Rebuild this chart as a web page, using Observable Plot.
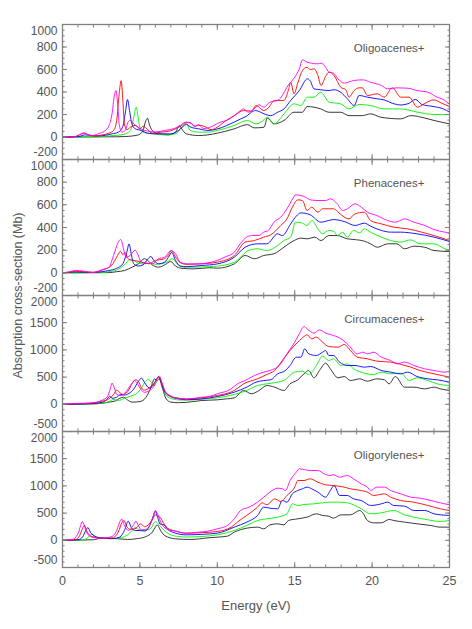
<!DOCTYPE html>
<html>
<head>
<meta charset="utf-8">
<script src="https://cdn.jsdelivr.net/npm/d3@7"></script>
<script src="https://cdn.jsdelivr.net/npm/@observablehq/plot@0.6"></script>
<style>
  html, body { margin: 0; padding: 0; background: #fff; }
  #chart { position: relative; width: 472px; height: 629px; overflow: hidden; }
  #chart svg { position: absolute; left: 0; }
  #chart g[aria-label="ticklabels"] text { letter-spacing: 1.2px; }
  #chart g[aria-label="ytitle"] text { letter-spacing: 1.3px; }
  #chart g[aria-label="xtitle"] text { letter-spacing: 1px; }
  #chart g[aria-label="paneltitle"] text { letter-spacing: 0.5px; }
</style>
</head>
<body>
<div id="chart"></div>
<script>
// ---------------- data: [energy (eV), cross-section (Mb)] ----------------
const panelTitles = ["Oligoacenes+", "Phenacenes+", "Circumacenes+", "Oligorylenes+"];
const seriesColors = ["#222222", "#00f000", "#0000ff", "#ff0000", "#ff00ff"];
const energyMajorTicks = [0, 5, 10, 15, 20, 25];
const energyMinorTicks = d3.range(0, 26, 1);
const yDomains = [[-200, 1000], [-200, 1000], [-500, 2000], [-500, 2000]];
const yMajorTicks = [
  [-200, 0, 200, 400, 600, 800, 1000],
  [-200, 0, 200, 400, 600, 800, 1000],
  [-500, 0, 500, 1000, 1500, 2000],
  [-500, 0, 500, 1000, 1500, 2000]
];
const yMinorSteps = [50, 50, 100, 100];

// Panel 1: Oligoacenes+
const oligoacenesBlack = [[0,0],[3.5,2],[4.05,4],[4.9,19],[5.2,58],[5.35,132],[5.49,167],[5.6,117],[5.8,58],[6.2,28],[6.85,19],[7.3,43],[7.55,102],[7.7,73],[8.0,28],[8.8,13],[9.4,19],[10.0,34],[11.08,72],[11.94,110],[12.4,81],[13.02,87],[13.23,170],[13.66,117],[14.31,147],[14.96,220],[15.5,220],[15.8,271],[16.68,250],[17.22,220],[17.97,220],[18.51,190],[19.37,190],[19.9,206],[20.56,176],[21.85,161],[22.5,190],[23.36,170],[24.0,147],[25,117]];
const oligoacenesGreen = [[0,0],[2.0,2],[3.0,10],[3.8,19],[4.27,43],[4.5,102],[4.65,206],[4.76,265],[4.85,206],[5.0,87],[5.2,43],[5.8,28],[6.6,19],[7.3,28],[7.7,87],[8.0,123],[8.25,58],[8.8,43],[9.4,43],[10.0,58],[11.08,102],[11.94,147],[12.5,117],[13.0,150],[13.23,176],[13.66,117],[14.31,206],[14.96,295],[15.4,280],[15.82,354],[16.25,354],[16.68,398],[17.22,310],[17.97,295],[18.51,250],[19.16,289],[19.9,280],[20.78,250],[21.85,250],[22.93,221],[24.0,200],[25,200]];
const oligoacenesBlue = [[0,0],[1.0,3],[1.47,19],[1.9,12],[2.3,10],[3.2,28],[3.6,43],[3.88,87],[4.05,206],[4.2,333],[4.33,235],[4.48,117],[4.7,73],[5.1,58],[5.5,34],[6.2,28],[7.0,28],[7.5,58],[8.0,111],[8.3,87],[8.8,73],[9.4,58],[10.0,72],[11.08,132],[11.5,160],[11.94,190],[12.2,220],[12.48,235],[13.02,206],[13.45,190],[13.9,220],[14.31,250],[14.74,325],[15.3,413],[15.82,517],[16.0,500],[16.25,428],[16.68,420],[17.22,413],[17.54,420],[17.97,398],[18.4,340],[18.84,280],[19.16,369],[19.7,354],[20.34,339],[20.78,330],[21.3,300],[21.85,285],[22.39,300],[22.8,335],[23.2,290],[24.0,270],[24.6,250],[25,221]];
const oligoacenesRed = [[0,0],[0.8,3],[1.2,25],[1.42,34],[1.7,18],[2.1,10],[2.6,19],[3.0,34],[3.3,58],[3.5,147],[3.66,384],[3.79,500],[3.9,324],[4.0,117],[4.16,64],[4.38,87],[4.7,102],[5.0,73],[5.2,95],[5.4,80],[5.8,34],[6.4,43],[7.0,55],[7.4,80],[7.7,102],[8.0,132],[8.3,123],[8.6,95],[8.8,105],[9.2,93],[9.6,65],[10.0,87],[10.5,140],[11.1,190],[11.7,235],[12.2,230],[12.5,280],[13.0,235],[13.3,260],[13.7,325],[14.3,325],[14.6,420],[14.74,487],[14.96,384],[15.2,480],[15.5,591],[15.8,620],[16.0,600],[16.25,606],[16.5,547],[16.7,458],[17.0,540],[17.22,577],[17.54,547],[17.97,443],[18.3,420],[18.51,354],[18.84,413],[19.16,437],[19.37,437],[19.7,369],[20.34,384],[20.78,354],[21.31,437],[21.85,354],[22.39,354],[22.93,265],[23.36,295],[24.0,330],[24.5,300],[25,271]];
const oligoacenesMagenta = [[0,0],[0.7,2],[1.1,20],[1.36,37],[1.6,25],[1.9,12],[2.3,28],[2.76,58],[3.0,100],[3.2,206],[3.35,370],[3.45,413],[3.58,265],[3.66,117],[3.83,43],[4.05,58],[4.27,140],[4.4,147],[4.6,117],[4.9,87],[5.3,58],[6.0,45],[6.6,58],[7.2,75],[7.6,100],[7.9,130],[8.3,123],[8.5,95],[8.8,110],[9.1,75],[9.5,85],[9.8,105],[10.2,132],[10.6,147],[11.1,190],[11.5,235],[11.7,250],[12.0,220],[12.5,265],[12.7,286],[13.0,265],[13.4,310],[13.9,325],[14.2,369],[14.5,443],[15.0,532],[15.3,606],[15.5,686],[15.8,665],[16.1,656],[16.5,650],[16.7,656],[17.0,620],[17.2,577],[17.5,568],[17.8,517],[18.2,479],[18.8,502],[19.4,508],[19.9,487],[20.6,458],[21.0,428],[21.6,437],[22.3,434],[22.9,413],[23.6,398],[24.2,354],[24.7,325],[25,290]];

// Panel 2: Phenacenes+
const phenacenesBlack = [[0,0],[3.0,2],[3.5,10],[4.0,20],[4.5,50],[4.9,80],[5.3,125],[5.5,110],[5.8,70],[6.2,50],[6.6,70],[7.0,100],[7.3,60],[7.7,40],[8.5,35],[9.5,45],[10.0,41],[11.1,79],[11.8,153],[12.4,124],[13.0,153],[13.66,168],[14.3,226],[14.96,285],[15.4,306],[15.8,300],[16.3,315],[16.7,285],[17.2,329],[17.75,329],[18.4,300],[18.84,294],[19.5,279],[19.9,256],[20.34,226],[21.0,256],[21.6,256],[22.1,212],[22.7,235],[23.4,226],[24.0,197],[25,188]];
const phenacenesGreen = [[0,0],[2.5,2],[3.0,10],[3.5,25],[4.0,70],[4.35,115],[4.6,110],[4.9,85],[5.3,80],[5.7,85],[6.0,75],[6.4,80],[6.8,100],[7.1,125],[7.4,80],[7.8,50],[8.5,50],[9.5,55],[10.0,59],[11.1,94],[11.5,138],[12.0,197],[12.6,212],[13.2,197],[13.9,241],[14.3,285],[14.74,315],[15.05,447],[15.5,438],[15.8,418],[16.1,462],[16.5,388],[16.8,344],[17.2,374],[17.54,365],[17.75,329],[18.1,359],[18.4,315],[18.8,374],[19.2,353],[19.5,388],[19.9,359],[20.6,315],[21.2,285],[21.85,271],[22.5,291],[23.1,256],[24.0,256],[24.7,212],[25,197]];
const phenacenesBlue = [[0,0],[0.82,8],[2.0,3],[2.5,10],[3.0,20],[3.5,40],[3.9,80],[4.15,180],[4.3,255],[4.45,160],[4.6,80],[4.9,60],[5.2,70],[5.5,120],[5.7,145],[5.9,110],[6.2,80],[6.6,95],[6.9,150],[7.05,180],[7.3,110],[7.6,60],[8.0,55],[9.0,65],[10.0,79],[11.1,138],[11.8,226],[12.6,256],[13.2,256],[13.9,344],[14.2,329],[14.74,432],[15.1,500],[15.4,529],[16.0,512],[16.7,447],[17.2,462],[17.5,470],[18.2,453],[18.9,418],[19.5,438],[19.9,412],[20.6,374],[21.2,359],[21.85,359],[22.9,344],[24.0,315],[25,276]];
const phenacenesRed = [[0,0],[0.5,6],[0.82,14],[1.36,10],[2.0,5],[2.6,26],[3.2,70],[3.5,138],[3.75,190],[3.9,160],[4.05,180],[4.2,130],[4.5,110],[4.8,105],[5.2,90],[5.6,80],[6.0,110],[6.5,120],[6.8,150],[7.05,195],[7.3,140],[7.6,90],[8.0,75],[9.0,80],[10.0,94],[11.1,153],[11.8,271],[12.4,285],[13.0,315],[13.45,335],[14.1,418],[14.5,476],[14.85,579],[15.2,644],[15.5,638],[15.8,550],[16.1,579],[16.5,535],[16.8,565],[17.2,565],[17.5,565],[18.0,512],[18.5,476],[18.9,520],[19.5,535],[19.9,462],[20.6,432],[21.4,403],[22.3,388],[23.2,359],[24.0,329],[25,285]];
const phenacenesMagenta = [[0,0],[0.5,10],[0.82,22],[1.36,15],[1.9,3],[2.6,29],[3.0,50],[3.3,153],[3.6,270],[3.77,294],[3.94,212],[4.1,138],[4.37,153],[4.7,200],[4.85,168],[5.1,94],[5.4,88],[5.8,79],[6.2,124],[6.6,138],[7.0,195],[7.3,170],[7.6,94],[8.1,79],[8.8,79],[9.4,88],[10.0,109],[10.5,140],[11.1,182],[11.5,260],[11.9,315],[12.3,330],[12.7,330],[13.0,359],[13.3,374],[13.66,447],[14.1,491],[14.5,565],[14.9,660],[15.05,688],[15.4,682],[15.7,668],[16.0,644],[16.5,638],[17.0,638],[17.3,653],[17.75,609],[18.1,550],[18.4,565],[18.9,609],[19.3,579],[19.7,535],[20.3,506],[20.99,462],[21.5,447],[22.1,476],[22.7,447],[23.4,418],[24.0,382],[24.7,359],[25,353]];

// Panel 3: Circumacenes+
const circumacenesBlack = [[0,0],[1,2],[2,8],[2.6,20],[3,40],[3.4,60],[3.7,110],[3.95,130],[4.2,80],[4.5,40],[5,50],[5.4,130],[5.7,300],[5.95,470],[6.1,430],[6.25,470],[6.45,300],[6.7,100],[7,40],[7.5,30],[8,35],[9,70],[10,82],[10.6,100],[11.1,119],[11.7,254],[12.2,193],[12.7,254],[13.2,345],[13.7,315],[14.3,254],[14.7,376],[15.2,450],[15.6,560],[15.9,621],[16.25,486],[16.6,621],[17.0,756],[17.3,652],[17.8,486],[18.2,511],[18.6,437],[19.2,468],[19.7,425],[20.3,468],[20.8,450],[21.1,376],[21.5,511],[22.1,315],[22.7,315],[23.4,284],[24.0,315],[24.4,284],[25,254]];
const circumacenesGreen = [[0,0],[1,3],[2,10],[2.6,25],[3,50],[3.3,90],[3.6,70],[4,110],[4.4,150],[4.8,200],[5.1,300],[5.35,420],[5.55,455],[5.75,400],[5.9,330],[6.1,420],[6.25,470],[6.4,380],[6.6,200],[7,110],[7.5,80],[8,75],[9,95],[10,119],[11.1,180],[11.9,254],[12.6,345],[13.2,376],[13.9,407],[14.3,437],[15.0,591],[15.5,609],[15.9,548],[16.4,713],[16.8,885],[17.2,805],[17.5,836],[18.0,713],[18.4,744],[18.8,652],[19.5,572],[20.1,548],[20.6,591],[21.2,560],[21.85,572],[22.4,437],[22.9,486],[23.6,437],[24.2,376],[25,345]];
const circumacenesBlue = [[0,0],[1,5],[2,15],[2.6,40],[2.9,100],[3.05,150],[3.2,110],[3.5,130],[3.75,180],[4.0,170],[4.3,200],[4.6,280],[4.9,420],[5.1,480],[5.3,400],[5.6,300],[5.8,330],[6.0,420],[6.2,510],[6.35,420],[6.6,230],[7,140],[7.5,100],[8,85],[9,100],[10,143],[11.1,223],[11.9,315],[12.5,407],[13.0,437],[13.45,450],[13.9,560],[14.4,621],[14.7,713],[15.1,866],[15.4,866],[15.65,1020],[15.9,928],[16.4,897],[16.8,958],[17.0,989],[17.2,897],[17.5,897],[17.9,775],[18.4,713],[18.9,713],[19.5,683],[19.9,695],[20.6,621],[21.2,591],[21.85,560],[22.3,591],[22.9,511],[23.6,468],[24.2,450],[25,407]];
const circumacenesRed = [[0,0],[1,10],[2,25],[2.6,60],[3.0,100],[3.3,180],[3.5,260],[3.65,230],[3.9,180],[4.2,230],[4.5,380],[4.7,450],[4.9,420],[5.1,300],[5.3,260],[5.6,300],[5.9,380],[6.1,460],[6.25,500],[6.4,400],[6.6,240],[7,150],[7.5,110],[8,95],[9,120],[10,162],[11.1,254],[11.7,376],[12.6,468],[13.2,548],[13.7,621],[14.2,805],[14.7,989],[15.2,1142],[15.6,1246],[15.8,1277],[16.1,1204],[16.4,1234],[16.8,1142],[17.2,1062],[17.8,1050],[18.2,1099],[18.6,989],[19.05,866],[19.7,836],[20.3,793],[21.2,775],[21.9,732],[22.5,683],[23.1,621],[24.0,560],[25,499]];
const circumacenesMagenta = [[0,0],[0.8,15],[1.5,20],[2.2,40],[2.6,80],[2.9,140],[3.1,300],[3.2,390],[3.35,300],[3.5,180],[3.8,160],[4.1,230],[4.4,350],[4.65,435],[4.85,380],[5.0,300],[5.3,220],[5.6,250],[5.9,330],[6.1,470],[6.25,520],[6.4,420],[6.6,260],[6.9,160],[7.3,120],[8,100],[8.5,110],[9,130],[9.5,145],[10,193],[10.9,284],[11.3,376],[11.8,437],[12.4,529],[13.0,591],[13.4,621],[14.1,744],[14.5,928],[15.0,1142],[15.3,1295],[15.6,1430],[15.8,1387],[16.25,1308],[16.6,1369],[17.0,1308],[17.5,1265],[18.0,1204],[18.5,1081],[19.05,928],[19.4,958],[19.7,928],[20.1,958],[20.6,866],[21.2,805],[21.6,744],[22.1,775],[22.7,713],[23.4,652],[24.0,621],[24.7,591],[25,609]];

// Panel 4: Oligorylenes+
const oligorylenesBlack = [[0,0],[2.0,10],[2.5,40],[3.1,39],[4.2,15],[4.8,30],[5.3,58],[5.8,150],[6.0,242],[6.1,284],[6.4,150],[6.6,88],[7.3,27],[8.3,15],[9.4,45],[10,58],[10.65,76],[11.1,150],[11.9,223],[12.6,242],[13.0,211],[13.4,284],[13.9,303],[14.3,284],[14.6,364],[15.2,395],[15.8,426],[16.4,487],[16.8,456],[17.2,444],[17.5,407],[18.0,468],[18.6,468],[19.2,548],[19.4,505],[19.7,364],[20.1,321],[20.6,321],[21.1,383],[21.4,364],[22.1,334],[22.9,303],[23.8,272],[24.4,242],[25,242]];
const oligorylenesGreen = [[0,0],[1.3,3],[1.6,40],[1.9,115],[2.2,60],[2.6,40],[3.2,30],[3.8,50],[4.2,100],[4.5,180],[4.7,240],[4.9,200],[5.3,180],[5.7,220],[6.0,345],[6.2,300],[6.5,200],[7,100],[7.5,70],[8,60],[9,70],[10,100],[11.1,180],[11.9,272],[12.6,364],[13.2,395],[13.9,426],[14.5,487],[14.85,670],[15.2,640],[15.6,658],[16.25,670],[16.8,689],[17.2,701],[17.8,701],[18.4,689],[18.8,652],[19.3,579],[19.9,487],[20.6,505],[21.4,548],[22.1,468],[22.7,426],[23.6,377],[24.4,346],[25,364]];
const oligorylenesBlue = [[0,0],[1.0,10],[1.3,60],[1.5,180],[1.64,235],[1.8,150],[2.1,70],[2.6,40],[3.2,30],[3.7,60],[4.0,180],[4.25,350],[4.45,230],[4.7,180],[5.0,180],[5.3,170],[5.6,250],[5.85,430],[6.0,530],[6.15,420],[6.3,300],[6.55,285],[6.8,200],[7.2,140],[8,100],[9,110],[10,131],[11.1,242],[11.9,334],[12.6,456],[13.0,609],[13.4,591],[13.9,579],[14.2,732],[14.5,701],[14.85,854],[15.2,915],[15.5,946],[15.8,977],[16.1,946],[16.5,885],[17.0,793],[17.3,915],[17.55,1007],[17.9,824],[18.4,824],[18.8,762],[19.3,732],[19.9,640],[20.6,670],[21.0,701],[21.4,640],[22.1,628],[22.7,548],[23.4,548],[24.0,487],[25,456]];
const oligorylenesRed = [[0,0],[0.8,10],[1.1,80],[1.3,220],[1.42,272],[1.6,150],[1.9,70],[2.5,40],[3.2,40],[3.6,150],[3.85,330],[3.97,364],[4.15,250],[4.4,200],[4.75,220],[5.05,303],[5.3,250],[5.6,300],[5.85,400],[6.0,468],[6.15,440],[6.3,426],[6.5,330],[6.8,220],[7.3,170],[8,130],[9,140],[10,162],[10.9,242],[11.3,334],[11.9,456],[12.6,609],[12.9,689],[13.2,652],[13.7,762],[14.1,713],[14.5,824],[15.0,977],[15.2,1099],[15.6,1099],[16.0,1130],[16.5,1069],[17.0,1020],[17.5,1007],[18.2,977],[18.6,946],[19.3,915],[19.7,885],[20.1,824],[20.8,854],[21.2,793],[21.85,732],[22.7,701],[23.6,640],[24.4,579],[25,548]];
const oligorylenesMagenta = [[0,0],[0.6,10],[1.0,119],[1.17,272],[1.27,345],[1.4,272],[1.57,137],[1.9,58],[2.5,37],[3.2,70],[3.5,180],[3.72,352],[3.83,390],[4.0,272],[4.27,180],[4.6,290],[4.74,352],[4.9,272],[5.1,192],[5.45,210],[5.8,390],[6.0,548],[6.16,474],[6.4,302],[6.85,192],[7.3,168],[7.9,131],[8.8,150],[9.4,168],[10,211],[10.65,272],[11.1,395],[11.5,548],[12.05,609],[12.6,701],[13.0,793],[13.4,885],[13.9,958],[14.2,946],[14.4,915],[14.7,1099],[15.1,1252],[15.3,1314],[15.7,1295],[16.0,1283],[16.5,1283],[16.9,1222],[17.3,1191],[17.5,1204],[17.9,1160],[18.4,1191],[18.8,1130],[19.3,1038],[19.7,977],[19.9,915],[20.3,977],[20.8,977],[21.2,915],[21.85,854],[22.5,793],[23.1,775],[23.8,732],[24.4,689],[25,652]];

const panelSeries = [
  [oligoacenesBlack, oligoacenesGreen, oligoacenesBlue, oligoacenesRed, oligoacenesMagenta],
  [phenacenesBlack, phenacenesGreen, phenacenesBlue, phenacenesRed, phenacenesMagenta],
  [circumacenesBlack, circumacenesGreen, circumacenesBlue, circumacenesRed, circumacenesMagenta],
  [oligorylenesBlack, oligorylenesGreen, oligorylenesBlue, oligorylenesRed, oligorylenesMagenta]
];

// ---------------- layout ----------------
const W = 472, ML = 62, MR = 23;
const layouts = [
  {top: 0,   height: 159, mt: 24, mb: 0},
  {top: 159, height: 136, mt: 0,  mb: 0},
  {top: 295, height: 136, mt: 0,  mb: 0},
  {top: 431, height: 198, mt: 0,  mb: 62}
];
const axisGray = "#808080";
const textGray = "#555555";
const fontFam = "'Liberation Sans', Arial, Helvetica, sans-serif";
const majorLen = 5, minorLen = 2.6;
const blank = () => "";

function makePanel(i) {
  const L = layouts[i];
  const major = yMajorTicks[i];
  const [y0, y1] = yDomains[i];
  const minor = d3.range(y0, y1 + 1, yMinorSteps[i]);
  const marks = [];
  panelSeries[i].forEach((s, j) => {
    marks.push(Plot.line(s, {x: d => d[0], y: d => d[1], stroke: seriesColors[j], strokeWidth: 0.9, curve: "monotone-x", clip: true}));
  });
  marks.push(Plot.frame({stroke: axisGray, strokeWidth: 1.3}));
  // inward ticks, x (bottom & top)
  marks.push(Plot.axisX({anchor: "bottom", ticks: energyMinorTicks, tickSize: minorLen, dy: -minorLen, tickFormat: blank, stroke: axisGray}));
  marks.push(Plot.axisX({anchor: "bottom", ticks: energyMajorTicks, tickSize: majorLen, dy: -majorLen, tickFormat: blank, stroke: axisGray}));
  marks.push(Plot.axisX({anchor: "top", ticks: energyMinorTicks, tickSize: minorLen, dy: minorLen, tickFormat: blank, stroke: axisGray}));
  marks.push(Plot.axisX({anchor: "top", ticks: energyMajorTicks, tickSize: majorLen, dy: majorLen, tickFormat: blank, stroke: axisGray}));
  // inward ticks, y (left & right)
  marks.push(Plot.axisY({anchor: "left", ticks: minor, tickSize: minorLen, dx: minorLen, tickFormat: blank, stroke: axisGray}));
  marks.push(Plot.axisY({anchor: "left", ticks: major, tickSize: majorLen, dx: majorLen, tickFormat: blank, stroke: axisGray}));
  marks.push(Plot.axisY({anchor: "right", ticks: minor, tickSize: minorLen, dx: -minorLen, tickFormat: blank, stroke: axisGray}));
  marks.push(Plot.axisY({anchor: "right", ticks: major, tickSize: majorLen, dx: -majorLen, tickFormat: blank, stroke: axisGray}));
  // y tick labels
  const lab = d => String(d);
  marks.push(Plot.axisY({anchor: "left", ticks: major.slice(1, -1), tickSize: 0, tickPadding: 5, tickFormat: lab, fontSize: 12.5, ariaLabel: "ticklabels"}));
  marks.push(Plot.axisY({anchor: "left", ticks: [major[major.length - 1]], tickSize: 0, tickPadding: 5, dy: 7, tickFormat: lab, fontSize: 12, ariaLabel: "ticklabels"}));
  marks.push(Plot.axisY({anchor: "left", ticks: [major[0]], tickSize: 0, tickPadding: 5, dy: -7, tickFormat: lab, fontSize: 12, ariaLabel: "ticklabels"}));
  // panel title
  marks.push(Plot.text([panelTitles[i]], {frameAnchor: "top-right", dx: -25, dy: 24, textAnchor: "end", lineAnchor: "middle", fontSize: 11.5, ariaLabel: "paneltitle"}));
  if (i === 2) {
    marks.push(Plot.text(["Absorption cross-section (Mb)"], {frameAnchor: "top-left", dx: -44.5, dy: 0, rotate: -90, textAnchor: "middle", lineAnchor: "middle", fontSize: 12.5, ariaLabel: "ytitle"}));
  }
  if (i === 3) {
    marks.push(Plot.axisX({anchor: "bottom", ticks: energyMajorTicks, tickSize: 0, tickPadding: 9, tickFormat: lab, fontSize: 12.5, ariaLabel: "ticklabels"}));
    marks.push(Plot.text(["Energy (eV)"], {frameAnchor: "bottom", dy: 38, lineAnchor: "middle", fontSize: 13, ariaLabel: "xtitle"}));
  }
  const svg = Plot.plot({
    width: W, height: L.height,
    marginLeft: ML, marginRight: MR, marginTop: L.mt, marginBottom: L.mb,
    x: {domain: [0, 25], label: null},
    y: {domain: yDomains[i], nice: false, label: null},
    style: {background: "transparent", overflow: "visible", color: textGray, fontFamily: fontFam, fontSize: "12.5px"},
    marks
  });
  svg.style.top = L.top + "px";
  return svg;
}

const chart = document.getElementById("chart");
for (let i = 0; i < 4; i++) chart.appendChild(makePanel(i));
</script>
</body>
</html>
